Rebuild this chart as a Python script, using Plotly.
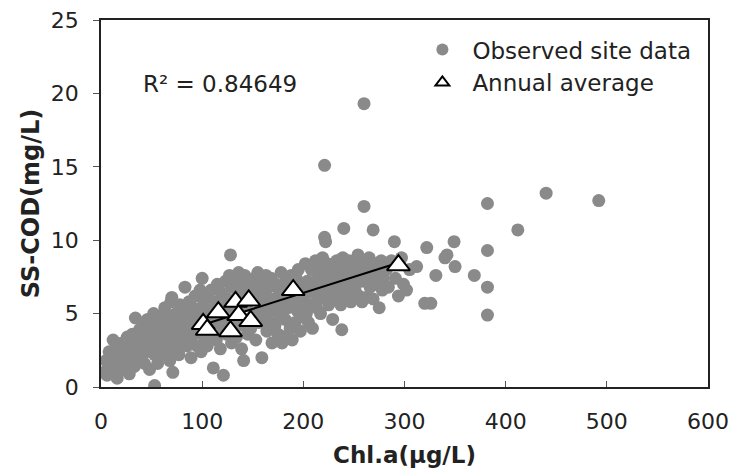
import numpy as np
import plotly.graph_objects as go

# Observed site data (Chl.a, SS-COD)
obs_x = [3,5,6,8,9,
         12,12,14,15,16,18,19,
         21,22,23,25,26,27,28,29,
         31,32,33,34,35,36,37,38,39,
         41,42,43,44,45,46,47,48,49,49,
         51,52,53,53,54,55,56,57,58,59,
         61,62,63,64,65,66,67,68,69,69,
         70,71,72,73,74,75,76,77,78,79,79,
         81,82,83,84,85,86,87,88,89,89,
         91,92,93,94,95,96,97,98,99,99,
         100,101,102,103,104,105,106,107,108,109,111,
         112,113,114,115,116,117,118,119,119,121,
         122,123,124,125,126,127,128,128,129,129,
         131,132,133,134,135,136,137,138,139,139,
         141,141,142,143,144,145,146,147,148,149,
         151,152,153,154,155,156,157,158,159,159,
         161,162,163,164,165,166,167,168,169,169,
         171,172,173,174,175,176,177,178,179,179,
         181,182,183,184,185,186,187,188,189,189,
         191,192,193,194,195,196,197,198,199,199,
         201,202,203,204,205,206,207,208,209,209,
         211,212,213,214,215,216,217,218,219,219,
         221,221,222,222,223,224,225,226,227,228,229,
         231,232,233,234,235,236,237,238,238,239,
         240,241,242,243,244,245,246,247,248,249,
         251,252,253,254,255,256,257,258,259,260,260,
         262,262,264,265,266,268,269,269,
         271,272,274,275,277,278,279,
         282,284,287,290,291,294,297,299,
         302,305,312,320,322,326,331,340,342,349,350,369,382,382,382,382,412,440,492]
obs_y = [1.0,1.8,0.8,2.4,1.4,
         3.2,1.2,2.0,2.8,0.6,1.6,2.4,
         3.0,1.2,2.0,2.6,3.4,1.6,0.9,2.2,
         3.6,2.8,1.4,4.7,2.2,3.2,1.8,3.9,2.6,
         3.0,4.2,1.6,3.6,2.4,4.6,3.2,1.2,2.8,4.0,
         3.6,5.0,0.1,2.2,4.4,3.0,1.6,3.9,4.8,2.6,
         3.4,4.4,5.4,2.2,3.8,2.8,4.8,1.8,3.2,5.8,
         6.1,1.0,4.2,2.6,5.0,3.6,4.6,2.2,5.6,3.0,4.0,
         4.4,3.4,6.8,5.2,2.8,4.0,5.8,3.2,4.8,2.0,
         5.4,3.6,6.2,4.4,2.8,5.0,3.8,6.6,4.6,2.4,
         7.4,5.6,3.4,4.8,6.2,2.8,4.2,5.2,3.6,6.6,1.3,
         4.6,5.8,3.2,7.0,4.0,5.4,2.6,6.4,4.8,0.8,
         5.2,7.2,3.6,6.0,4.4,7.6,9.0,5.4,3.0,6.8,
         4.8,7.4,5.8,3.4,6.6,7.8,4.2,5.4,7.0,2.6,
         1.8,6.2,7.6,4.6,5.6,3.6,7.2,6.4,4.0,6.8,
         5.0,7.4,3.2,6.0,7.8,4.4,6.6,5.4,2.0,7.2,
         4.8,6.2,7.6,3.8,5.6,6.8,4.4,7.4,5.2,3.0,
         6.0,4.2,7.0,5.4,3.6,6.6,4.8,7.8,5.8,3.0,
         6.4,4.6,7.2,3.5,5.4,6.8,4.0,7.6,5.8,3.2,
         6.0,4.4,7.4,5.2,8.0,6.6,3.8,5.6,7.0,4.8,
         6.2,8.4,5.0,7.2,4.4,6.6,5.6,8.0,7.0,4.0,
         6.4,8.6,5.4,7.4,6.0,8.2,5.0,7.0,6.6,8.8,
         10.2,15.1,9.9,7.6,6.2,8.4,5.6,7.2,8.0,6.6,4.6,
         7.8,6.0,8.6,7.0,6.4,8.2,5.6,3.9,7.4,8.8,
         10.8,6.8,8.0,7.2,6.2,8.6,7.6,5.8,8.2,7.0,
         6.6,8.4,7.6,9.0,6.2,8.0,7.2,5.8,8.6,12.3,19.3,
         6.1,8.2,7.4,8.8,6.8,7.8,10.7,6.0,
         8.4,7.0,7.8,5.4,8.6,6.6,7.4,
         8.0,6.8,8.6,9.9,7.4,6.2,8.8,7.0,
         6.6,8.0,8.2,5.7,9.5,5.7,7.6,8.8,9.0,9.9,8.2,7.6,12.5,9.3,6.8,4.9,10.7,13.2,12.7]

# Annual averages
avg_x = [101, 105, 116, 128, 133, 136, 146, 148, 190, 294]
avg_y = [4.3, 3.9, 5.1, 3.8, 5.8, 4.9, 5.9, 4.5, 6.6, 8.3]

x_ticks = [0, 100, 200, 300, 400, 500, 600]
y_ticks = [0, 5, 10, 15, 20, 25]

slope, intercept = np.polyfit(avg_x, avg_y, 1)
fit_x = [min(avg_x), max(avg_x)]
fit_y = [intercept + slope * v for v in fit_x]

FONT = "DejaVu Sans, Arial, sans-serif"

fig = go.Figure()
fig.add_trace(go.Scatter(
    x=obs_x, y=obs_y, mode="markers", name="Observed site data",
    marker=dict(symbol="circle", size=13, color="#8a8a8a", line=dict(width=0)),
))
fig.add_trace(go.Scatter(
    x=fit_x, y=fit_y, mode="lines", showlegend=False,
    line=dict(color="black", width=2),
))
fig.add_trace(go.Scatter(
    x=avg_x, y=avg_y, mode="markers", name="Annual average",
    marker=dict(symbol="triangle-up", size=20, color="white",
                line=dict(color="black", width=2)),
))

fig.add_annotation(
    text="R² = 0.84649", xref="paper", yref="paper",
    x=0.066, y=0.825, xanchor="left", yanchor="middle", showarrow=False,
    font=dict(family=FONT, size=23, color="#222"),
)

axis_common = dict(
    showgrid=False, zeroline=False, showline=True, linecolor="#222",
    linewidth=1.5, mirror=True, automargin=False,
    tickfont=dict(family=FONT, size=22, color="#222"),
    tickcolor="#555", ticklen=6, tickwidth=1,
    ticklabeloverflow="allow",
)

fig.update_layout(
    width=732, height=470,
    margin=dict(l=101, r=24, t=20, b=83),
    paper_bgcolor="white", plot_bgcolor="white",
    showlegend=True,
    legend=dict(
        x=0.513, y=0.978, xanchor="left", yanchor="top",
        bgcolor="rgba(0,0,0,0)", borderwidth=0,
        font=dict(family=FONT, size=23, color="#222"),
        itemsizing="constant", itemwidth=50, tracegroupgap=0,
    ),
    xaxis=dict(
        range=[0, 600], tickvals=x_ticks, ticks="inside",
        ticklabelstandoff=14,
        title=dict(text="<b>Chl.a(μg/L)</b>", standoff=14,
                   font=dict(family=FONT, size=23, color="#222")),
        **axis_common,
    ),
    yaxis=dict(
        range=[0, 25], tickvals=y_ticks, ticks="outside",
        ticklabelstandoff=10,
        title=dict(text="<b>SS-COD(mg/L)</b>", standoff=4,
                   font=dict(family=FONT, size=24, color="#222")),
        **axis_common,
    ),
)

fig.write_html("out.html", config={"displayModeBar": False},
               post_script="document.body.style.margin='0';")
